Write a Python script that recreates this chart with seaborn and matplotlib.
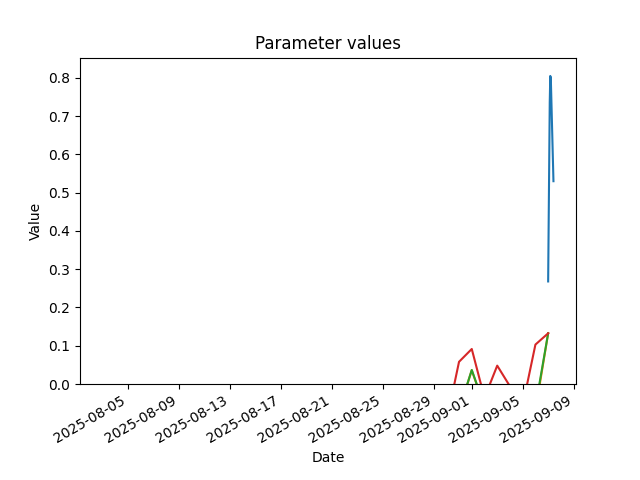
import numpy as np
import pandas as pd
import matplotlib
matplotlib.use("Agg")
import matplotlib.pyplot as plt
import seaborn as sns

# daily parameters, 2025-08-03 .. 2025-09-07 (negative values fall below the y-limit)
daily_dates = pd.date_range("2025-08-03", "2025-09-07", freq="D")
param_b = [-0.12, -0.09, -0.11, -0.14, -0.10, -0.08, -0.13, -0.155, -0.12, -0.09,
           -0.10, -0.11, -0.07, -0.09, -0.12, -0.13, -0.10, -0.08, -0.11, -0.09,
           -0.12, -0.10, -0.08, -0.07, -0.09, -0.11, -0.10, -0.09, -0.07, 0.036,
           -0.06, -0.08, -0.07, -0.09, -0.07, 0.1325]
param_c = [-0.12, -0.09, -0.11, -0.14, -0.10, -0.08, -0.13, -0.15, -0.12, -0.09,
           -0.10, -0.11, -0.07, -0.09, -0.12, -0.13, -0.10, -0.08, -0.11, -0.09,
           -0.12, -0.10, -0.08, -0.07, -0.09, -0.11, -0.10, -0.09, -0.068, 0.0366,
           -0.058, -0.08, -0.07, -0.09, -0.06, 0.1325]
param_d = [-0.08, -0.06, -0.07, -0.09, -0.05, -0.06, -0.08, -0.10, -0.07, -0.06,
           -0.05, -0.07, -0.04, -0.06, -0.08, -0.09, -0.06, -0.05, -0.07, -0.06,
           -0.08, -0.07, -0.05, -0.04, -0.06, -0.07, -0.10, 0.058, 0.0915, -0.036,
           0.048, -0.006, -0.056, 0.103, 0.1325]
param_d = [-0.09] + param_d

# intraday parameter on 2025-09-07
param_a_times = pd.to_datetime(["2025-09-07 00:00", "2025-09-07 03:00", "2025-09-07 04:00",
                                "2025-09-07 05:00", "2025-09-07 10:00"])
param_a = [0.268, 0.735, 0.805, 0.80, 0.53]

frames = [pd.DataFrame({"date": param_a_times, "value": param_a, "param": "a"})]
for name, vals in [("b", param_b), ("c", param_c), ("d", param_d)]:
    frames.append(pd.DataFrame({"date": daily_dates, "value": vals, "param": name}))
df = pd.concat(frames, ignore_index=True)

fig, ax = plt.subplots(figsize=(6.4, 4.8), dpi=100)
sns.lineplot(data=df, x="date", y="value", hue="param", hue_order=["a", "b", "c", "d"],
             palette=["#1f77b4", "#ff7f0e", "#2ca02c", "#d62728"], legend=False, ax=ax)
ax.set_ylim(bottom=0)
ax.set_title("Parameter values")
ax.set_xlabel("Date")
ax.set_ylabel("Value")
fig.autofmt_xdate()
fig.savefig("out.png")
